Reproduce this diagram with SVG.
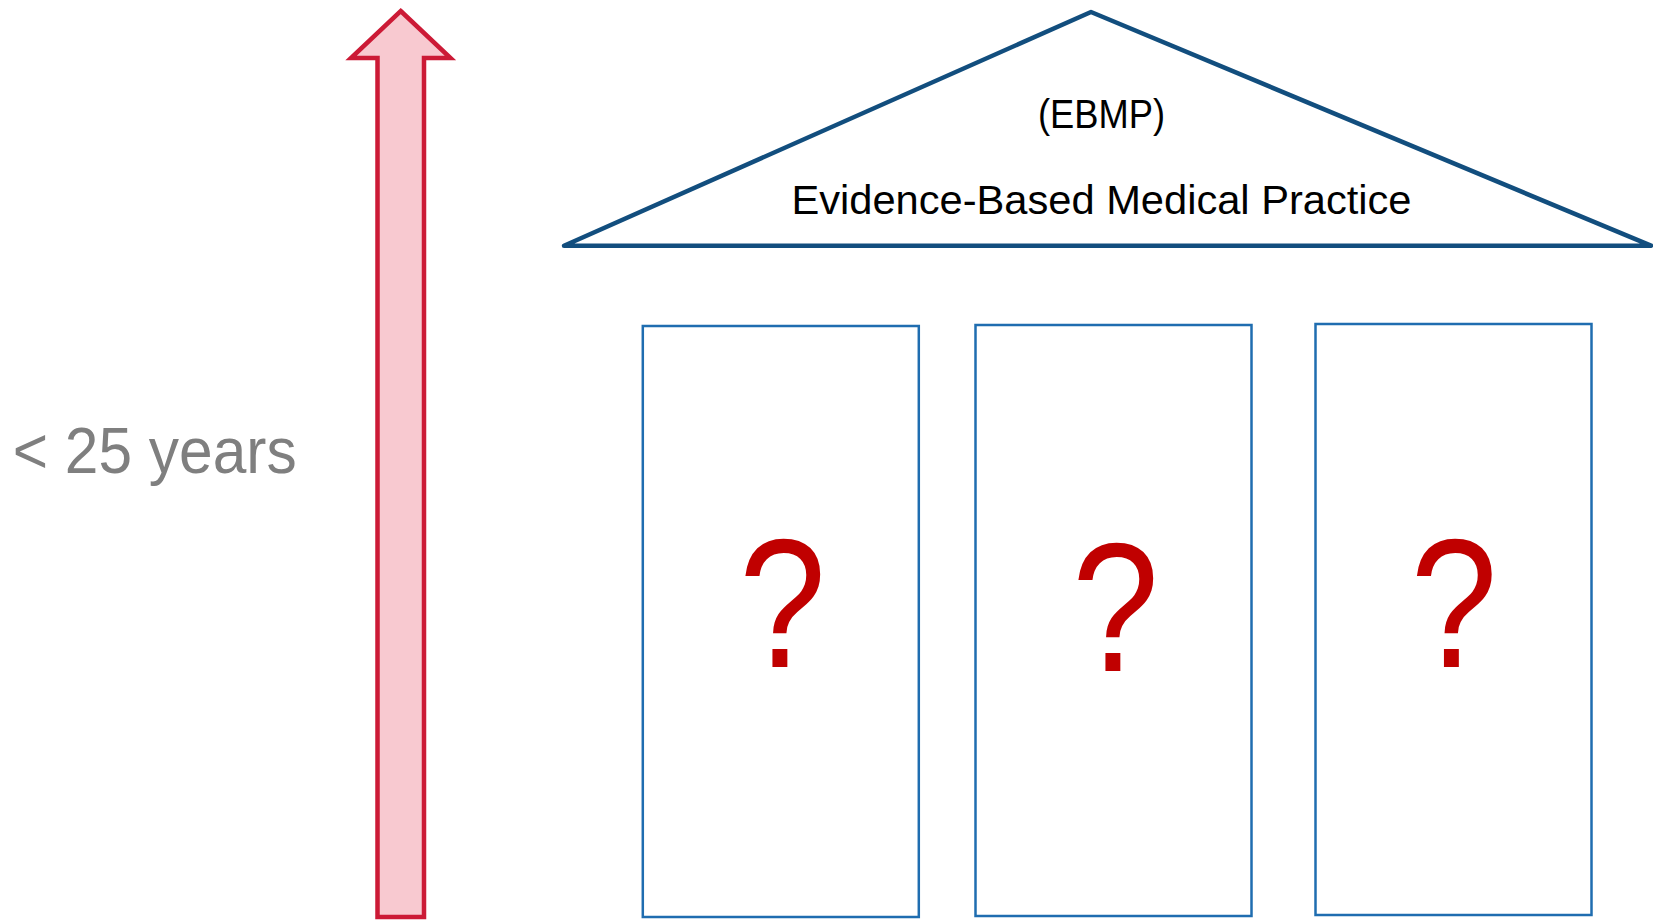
<svg xmlns="http://www.w3.org/2000/svg" width="1653" height="923" viewBox="0 0 1653 923">
  <style>
    .pillar { fill: #ffffff; stroke: #1f6db0; stroke-width: 2.5; }
    .q { font-family: "Liberation Sans", Arial, sans-serif; font-size: 183px; fill: #c00000; text-anchor: middle; }
    .roof-text { font-family: "Liberation Sans", Arial, sans-serif; font-size: 40px; fill: #000000; }
  </style>
  <rect x="0" y="0" width="1653" height="923" fill="#ffffff"/>
  <g id="arrow">
    <polygon points="400.7,11 450.5,58 424,58 424,917 377.5,917 377.5,58 351,58" fill="#f8c9d0" stroke="#cc1a36" stroke-width="4.5" stroke-linejoin="miter"/>
  </g>
  <g id="years-label">
    <text x="12.7" y="472.7" font-family="Liberation Sans, Arial, sans-serif" font-size="64" fill="#7f7f7f" textLength="284" lengthAdjust="spacingAndGlyphs">&lt; 25 years</text>
  </g>
  <g id="roof">
    <polygon points="1091,12 1651,245.7 564,245.7" fill="#ffffff" stroke="#124e7e" stroke-width="4.5" stroke-linejoin="round"/>
    <text class="roof-text" x="1038" y="127.7" textLength="127" lengthAdjust="spacingAndGlyphs">(EBMP)</text>
    <text class="roof-text" x="791.5" y="213.5" textLength="620" lengthAdjust="spacingAndGlyphs">Evidence-Based Medical Practice</text>
  </g>
  <g id="pillar1">
    <rect class="pillar" x="642.8" y="326" width="276" height="591"/>
    <text class="q" x="782.4" y="666.7" textLength="87" lengthAdjust="spacingAndGlyphs">?</text>
  </g>
  <g id="pillar2">
    <rect class="pillar" x="975.5" y="325" width="276" height="591"/>
    <text class="q" x="1115.4" y="670.5" textLength="87" lengthAdjust="spacingAndGlyphs">?</text>
  </g>
  <g id="pillar3">
    <rect class="pillar" x="1315.5" y="324" width="276" height="591"/>
    <text class="q" x="1454" y="666.5" textLength="87" lengthAdjust="spacingAndGlyphs">?</text>
  </g>
  <g id="connectors"></g>
</svg>
